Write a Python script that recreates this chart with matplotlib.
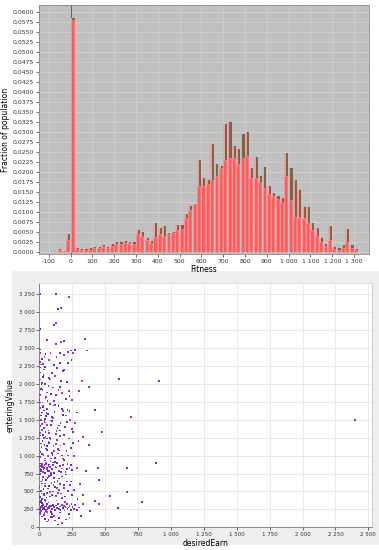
import numpy as np
import matplotlib
matplotlib.use("Agg")
import matplotlib.pyplot as plt
from matplotlib.patches import Rectangle
from matplotlib.ticker import FuncFormatter, MultipleLocator

# --- histogram data (bins of 20 fitness units, left edges) ---
bin_left = np.arange(-80, 1320, 20)
frac_peak = [
    0.0, 0.0007, 0.0003, 0.0045, 0.0585, 0.0010, 0.0008, 0.0007, 0.0010, 0.0013,
    0.0012, 0.0018, 0.0013, 0.0020, 0.0024, 0.0025, 0.0027, 0.0026, 0.0025, 0.0055,
    0.0050, 0.0035, 0.0028, 0.0072, 0.0060, 0.0065, 0.0048, 0.0050, 0.0067, 0.0068,
    0.0095, 0.0115, 0.0120, 0.0230, 0.0185, 0.0180, 0.0270, 0.0220, 0.0215, 0.0320,
    0.0325, 0.0265, 0.0258, 0.0295, 0.0300, 0.0210, 0.0238, 0.0190, 0.0213, 0.0165,
    0.0148, 0.0140, 0.0135, 0.0247, 0.0210, 0.0180, 0.0155, 0.0113, 0.0113, 0.0072,
    0.0060, 0.0035, 0.0020, 0.0065, 0.0013, 0.0010, 0.0017, 0.0057, 0.0017, 0.0008,
]
frac_base = [
    0.0, 0.0005, 0.0002, 0.0030, 0.0580, 0.0008, 0.0006, 0.0005, 0.0006, 0.0010,
    0.0010, 0.0012, 0.0010, 0.0016, 0.0020, 0.0020, 0.0022, 0.0022, 0.0020, 0.0045,
    0.0040, 0.0030, 0.0022, 0.0038, 0.0045, 0.0040, 0.0045, 0.0048, 0.0055, 0.0058,
    0.0085, 0.0105, 0.0120, 0.0165, 0.0165, 0.0170, 0.0180, 0.0190, 0.0210, 0.0230,
    0.0235, 0.0235, 0.0220, 0.0235, 0.0240, 0.0185, 0.0185, 0.0175, 0.0160, 0.0145,
    0.0140, 0.0132, 0.0125, 0.0190, 0.0130, 0.0088, 0.0088, 0.0085, 0.0072, 0.0055,
    0.0040, 0.0025, 0.0015, 0.0030, 0.0008, 0.0006, 0.0010, 0.0025, 0.0010, 0.0005,
]

# --- scatter data: desiredEarn vs enteringValue ---
desired_earn = [
    # y < 150
    45, 60, 88, 120, 150, 175, 22, 205, 140, 100, 230, 70,
    # 150 - 400
    5, 12, 18, 25, 30, 38, 44, 52, 60, 66, 74, 80,
    8, 15, 22, 28, 35, 42, 48, 55, 63, 70, 78, 86,
    92, 98, 105, 112, 118, 125, 132, 140, 148, 155, 162, 170,
    178, 185, 192, 200, 208, 215, 222, 230, 238, 245, 252, 262,
    3, 10, 20, 33, 47, 58, 95, 130, 160, 195, 225, 270,
    285, 300, 318, 330, 290, 2, 14, 40, 88, 110,
    # 400 - 750
    4, 11, 19, 27, 34, 41, 50, 58, 67, 75, 84, 93,
    102, 111, 120, 129, 138, 147, 156, 165, 175, 186, 198, 210,
    222, 235, 248, 7, 16, 24, 31, 45, 54, 62, 71, 80,
    89, 99, 116, 134, 152, 171, 190, 214, 240, 265, 2, 13,
    37, 69, 108, 143, 205, 310, 330,
    # 750 - 950
    3, 8, 14, 20, 26, 32, 39, 46, 53, 61, 69, 77,
    85, 94, 103, 113, 124, 135, 147, 159, 172, 186, 200, 215,
    230, 246, 6, 17, 29, 43, 57, 72, 88, 106, 128, 153,
    181, 210, 2, 11, 23, 36, 50, 65, 82, 118, 165, 240,
    285, 355,
    # 950 - 1300
    4, 10, 17, 24, 31, 39, 47, 56, 65, 75, 85, 96,
    107, 119, 131, 144, 158, 173, 189, 206, 224, 243, 263, 7,
    14, 21, 35, 50, 70, 90, 112, 136, 162, 190, 220, 254,
    1, 28, 44, 61, 80, 100, 125, 150, 178, 298, 330, 380,
    140, 60,
    # 1300 - 1750
    3, 9, 15, 22, 29, 36, 44, 52, 61, 70, 80, 91,
    103, 116, 130, 145, 161, 178, 196, 215, 235, 256, 5, 12,
    19, 26, 40, 55, 74, 95, 120, 148, 180, 212, 250, 1,
    18, 33, 48, 66, 86, 108, 138, 170, 205, 285, 8, 24,
    58, 99, 155, 230, 270, 42, 125,
    # 1750 - 2250
    2, 7, 13, 20, 28, 37, 47, 58, 70, 83, 97, 112,
    128, 145, 163, 182, 202, 223, 5, 16, 32, 52, 76, 104,
    136, 172, 210, 250, 10, 25, 42, 62, 90, 120, 155, 190,
    230, 3, 45, 300,
    # 2250 - 2500
    5, 12, 20, 30, 48, 76, 110, 130, 160, 190, 220, 245, 8, 40, 270,
    # upper
    10, 127, 226, 140, 165, 114, 127, 10, 56, 127, 165, 190,
    347, 10, 86, 157, 220, 240, 255, 360, 130, 245,
    # outliers
    327, 606, 380, 912, 697, 2399, 664, 884, 664, 778, 537, 600,
    474, 423, 444, 454, 454, 425, 385,
]
entering_value = [
    # y < 150
    120, 80, 140, 95, 130, 60, 150, 110, 40, 145, 135, 100,
    # 150 - 400
    260, 280, 300, 250, 310, 270, 290, 240, 320, 265, 285, 300,
    350, 230, 340, 275, 260, 380, 225, 300, 255, 345, 270, 230,
    295, 250, 315, 280, 240, 305, 270, 330, 255, 290, 240, 310,
    265, 300, 235, 285, 320, 250, 275, 300, 245, 330, 280, 260,
    200, 180, 390, 170, 360, 210, 190, 375, 205, 355, 185, 315,
    240, 275, 160, 330, 395, 320, 365, 195, 215, 160,
    # 400 - 750
    420, 510, 610, 700, 455, 580, 660, 480, 540, 720, 430, 620,
    500, 690, 560, 440, 650, 520, 600, 470, 710, 545, 430, 640,
    505, 585, 450, 740, 470, 655, 530, 610, 415, 690, 575, 495,
    725, 455, 630, 545, 680, 410, 590, 505, 640, 520, 560, 640,
    460, 705, 595, 480, 735, 600, 450,
    # 750 - 950
    820, 860, 790, 880, 840, 810, 870, 760, 900, 830, 850, 780,
    920, 810, 870, 760, 840, 900, 790, 860, 820, 940, 770, 880,
    830, 800, 890, 845, 770, 930, 815, 875, 760, 905, 835, 785,
    870, 815, 945, 800, 855, 825, 880, 790, 840, 910, 770, 865,
    825, 780,
    # 950 - 1300
    980, 1050, 1120, 1200, 1010, 1150, 1260, 1080, 990, 1180, 1230, 1040,
    1130, 970, 1210, 1090, 1270, 1000, 1160, 1060, 1240, 1110, 990, 1280,
    1170, 1020, 1250, 1100, 1190, 960, 1060, 1220, 1140, 1290, 1000, 1180,
    1070, 1290, 960, 1130, 1250, 1010, 1160, 1070, 960, 1200, 1260, 1150,
    1030, 1240,
    # 1300 - 1750
    1320, 1410, 1500, 1600, 1700, 1380, 1460, 1550, 1650, 1350, 1720, 1430,
    1520, 1610, 1340, 1690, 1450, 1570, 1400, 1640, 1500, 1330, 1740, 1560,
    1360, 1680, 1480, 1590, 1310, 1540, 1710, 1420, 1620, 1470, 1370, 1530,
    1440, 1630, 1330, 1580, 1490, 1700, 1390, 1650, 1560, 1600, 1660, 1740,
    1430, 1480, 1350, 1620, 1450, 1510, 1300,
    # 1750 - 2250
    1780, 1850, 1930, 2010, 2100, 2200, 1800, 1880, 1970, 2060, 2150, 1760,
    1840, 1920, 2040, 2180, 1790, 1900, 2230, 1990, 2120, 1820, 2080, 1950,
    2220, 1870, 2030, 1780, 2160, 1910, 2000, 1760, 1860, 2110, 1960, 2190,
    1830, 2060, 2240, 1900,
    # 2250 - 2500
    2300, 2270, 2350, 2280, 2420, 2330, 2260, 2370, 2290, 2400, 2290, 2330, 2480, 2380, 2470,
    # upper
    3250, 3250, 3216, 3049, 3063, 2817, 2854, 2766, 2608, 2552, 2580, 2598,
    2622, 2435, 2435, 2435, 2450, 2465, 2430, 2465, 2370, 2330,
    # outliers
    2045, 2065, 1961, 2040, 1543, 1497, 823, 901, 488, 349, 441, 265,
    1333, 1636, 823, 660, 330, 370, 230,
]

W, H = 379, 550
fig = plt.figure(figsize=(W / 100, H / 100), dpi=100)
fig.patch.set_facecolor("white")

# light grey panel behind the scatter plot
panel = Rectangle((12 / W, 1 - 545 / H), (W - 12) / W, (545 - 271) / H,
                  transform=fig.transFigure, facecolor="#eeeeee",
                  edgecolor="none", zorder=-10)
fig.add_artist(panel)

small = 4.4

# ---------------- top: histogram ----------------
ax1 = fig.add_axes([39 / W, 1 - 254 / H, (368.7 - 39) / W, (254 - 5) / H])
ax1.set_facecolor("#c0c0c0")
ax1.set_axisbelow(True)
ax1.grid(True, color="#d4d4d4", linewidth=0.5)
ax1.bar(bin_left + 6, frac_peak, width=12, align="edge", color="#7d6548", zorder=2)
ax1.bar(bin_left, frac_peak, width=8, align="edge", color="#e8a2a6", zorder=2)
ax1.bar(bin_left, frac_base, width=14, align="edge", color="#ff5c5c",
        edgecolor="#ff9aa8", linewidth=0.4, zorder=3)
ax1.axvline(0, color="#606060", linewidth=0.7, zorder=1)
ax1.set_xlim(-145, 1367)
ax1.set_ylim(-0.0005, 0.0617)
ax1.xaxis.set_major_locator(MultipleLocator(100))
ax1.yaxis.set_major_locator(MultipleLocator(0.0025))
ax1.xaxis.set_major_formatter(FuncFormatter(lambda v, p: f"{v:,.0f}".replace(",", " ")))
ax1.yaxis.set_major_formatter(FuncFormatter(lambda v, p: f"{v:.4f}".replace(".", ",")))
ax1.tick_params(labelsize=small, length=2, width=0.5, pad=1.5, colors="#333333")
for s in ax1.spines.values():
    s.set_color("#888888")
    s.set_linewidth(0.6)
ax1.set_xlabel("Fitness", fontsize=5.5, labelpad=1)
ax1.set_ylabel("Fraction of population", fontsize=5.5, labelpad=2)

# ---------------- bottom: scatter ----------------
ax2 = fig.add_axes([39.3 / W, 1 - 527.3 / H, (372 - 39.3) / W, (527.3 - 283) / H])
ax2.set_facecolor("white")
ax2.set_axisbelow(True)
ax2.grid(True, color="#e6e6e6", linewidth=0.6)
palette = ["#5534d2", "#b32bd6", "#4a3ccc", "#8a2fd6"]
colors = [palette[i % len(palette)] for i in range(len(desired_earn))]
ax2.scatter(desired_earn, entering_value, s=1.6, c=colors, marker="s", linewidths=0, zorder=3)
ax2.set_xlim(0, 2528)
ax2.set_ylim(0, 3407)
ax2.xaxis.set_major_locator(MultipleLocator(250))
ax2.yaxis.set_major_locator(MultipleLocator(250))
fmt = FuncFormatter(lambda v, p: f"{v:,.0f}".replace(",", " "))
ax2.xaxis.set_major_formatter(fmt)
ax2.yaxis.set_major_formatter(fmt)
ax2.tick_params(labelsize=4.0, length=2, width=0.5, pad=1.5, colors="#333333")
ax2.spines["left"].set_color("#777777")
ax2.spines["bottom"].set_color("#777777")
ax2.spines["top"].set_color("#d8d8d8")
ax2.spines["right"].set_color("#c8c8c8")
for s in ax2.spines.values():
    s.set_linewidth(0.6)
ax2.set_xlabel("desiredEarn", fontsize=5.5, labelpad=1)
ax2.set_ylabel("enteringValue", fontsize=5.5, labelpad=3)

fig.savefig("out.png", dpi=100)
